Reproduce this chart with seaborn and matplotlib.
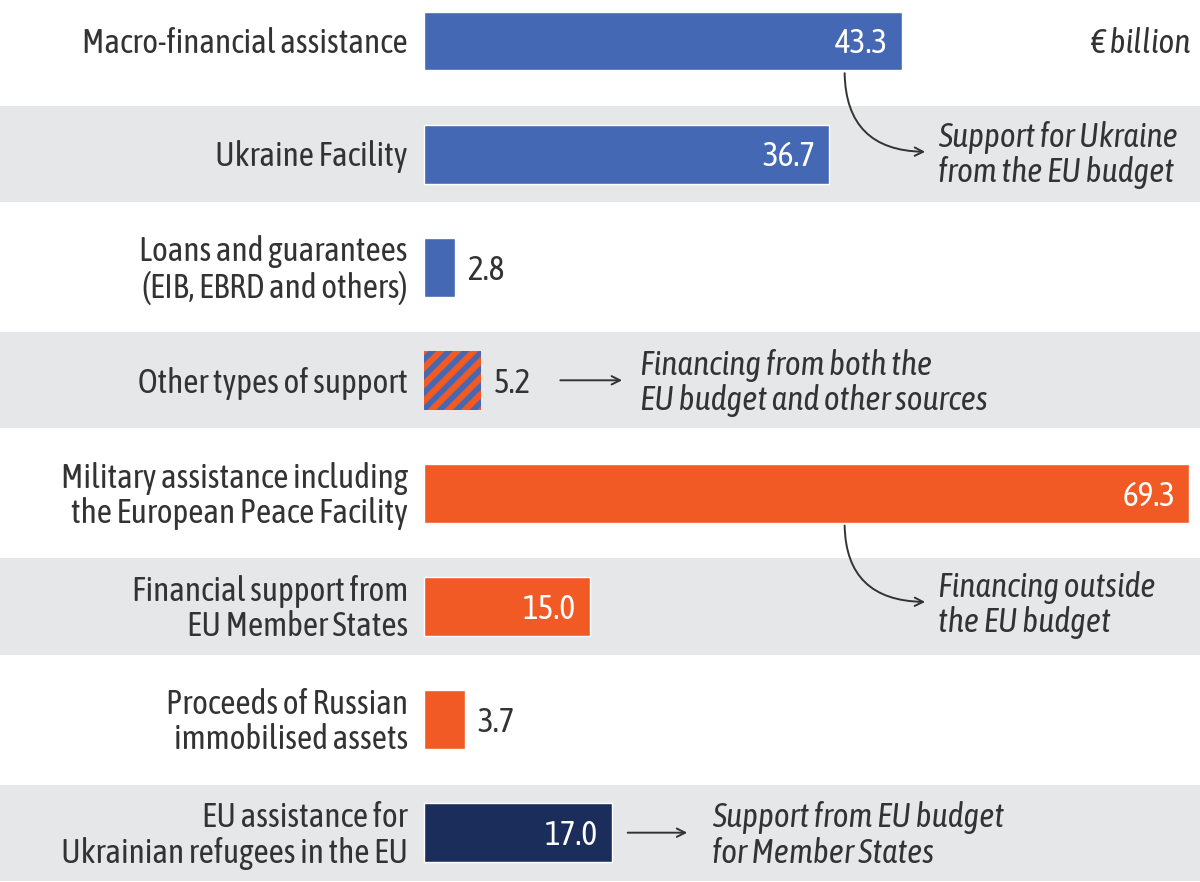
import matplotlib
matplotlib.use("Agg")
import matplotlib.pyplot as plt
import seaborn as sns
import pandas as pd

# Data
categories = [
    "Macro-financial assistance",
    "Ukraine Facility",
    "Loans and guarantees\n(EIB, EBRD and others)",
    "Other types of support",
    "Military assistance including\nthe European Peace Facility",
    "Financial support from\nEU Member States",
    "Proceeds of Russian\nimmobilised assets",
    "EU assistance for\nUkrainian refugees in the EU",
]
values = [43.3, 36.7, 2.8, 5.2, 69.3, 15.0, 3.7, 17.0]
inside_label = [True, True, False, False, True, True, False, True]

BLUE = "#4468B3"
ORANGE = "#F15A24"
NAVY = "#1B2D5A"
GREY = "#E6E7E9"
TEXT = "#333333"
bar_colors = [BLUE, BLUE, BLUE, ORANGE, ORANGE, ORANGE, ORANGE, NAVY]

sns.set_theme(style="white")
plt.rcParams["font.family"] = ["Asap Condensed", "DejaVu Sans"]
plt.rcParams["hatch.linewidth"] = 4.0

FS = 24
LS = 1.08

df = pd.DataFrame({"category": categories, "value": values})

fig = plt.figure(figsize=(12, 8.82), dpi=100)
ax = fig.add_axes([0, 0, 1, 1])

# grey bands behind every second row
for i in range(1, len(categories), 2):
    ax.axhspan(i - 0.425, i + 0.425, color=GREY, zorder=0, lw=0)

sns.barplot(data=df, x="value", y="category", hue="category",
            palette=bar_colors, orient="h", width=0.52, legend=False,
            saturation=1, ax=ax, zorder=2)

# striped bar for mixed financing
hatched = ax.containers[3][0]
hatched.set_facecolor(ORANGE)
hatched.set_edgecolor(BLUE)
hatched.set_hatch("//")
hatched.set_linewidth(0)

ax.set_xlim(-38.4, 70.29)
ax.set_ylim(7.436, -0.3625)
ax.axis("off")

dy = 0.025  # small nudge so text sits optically centred on the bars

# category labels and values
for i, (cat, v, inside) in enumerate(zip(categories, values, inside_label)):
    ax.text(-1.45, i + dy, cat, ha="right", va="center", fontsize=FS,
            color=TEXT, linespacing=LS)
    if inside:
        ax.text(v - 1.25, i + dy, f"{v:.1f}", ha="right", va="center",
                fontsize=FS, color="white")
    else:
        ax.text(v + 1.15, i + dy, f"{v:.1f}", ha="left", va="center",
                fontsize=FS, color=TEXT)

ax.text(69.4, dy, "€ billion", ha="right", va="center", fontsize=FS,
        style="italic", color=TEXT)

arrow_kw = dict(arrowstyle="->,head_length=0.5,head_width=0.25",
                color=TEXT, lw=1.4)

# curved arrows
for y0, y1, note in [(0.26, 0.98, "Support for Ukraine\nfrom the EU budget"),
                     (4.26, 4.96, "Financing outside\nthe EU budget")]:
    ax.annotate("", xy=(45.65, y1), xytext=(38.1, y0),
                arrowprops=dict(connectionstyle="angle3,angleA=90,angleB=0",
                                **arrow_kw))
    ax.text(46.6, y1 + dy, note, ha="left", va="center", fontsize=FS,
            style="italic", color=TEXT, linespacing=LS)

# straight arrows
for y, x0, x1, xt, note in [
        (3, 12.1, 18.2, 19.6, "Financing from both the\nEU budget and other sources"),
        (7, 18.2, 24.1, 26.1, "Support from EU budget\nfor Member States")]:
    ax.annotate("", xy=(x1, y), xytext=(x0, y), arrowprops=arrow_kw)
    ax.text(xt, y + dy, note, ha="left", va="center", fontsize=FS,
            style="italic", color=TEXT, linespacing=LS)

fig.savefig("out.png", dpi=100, facecolor="white")
